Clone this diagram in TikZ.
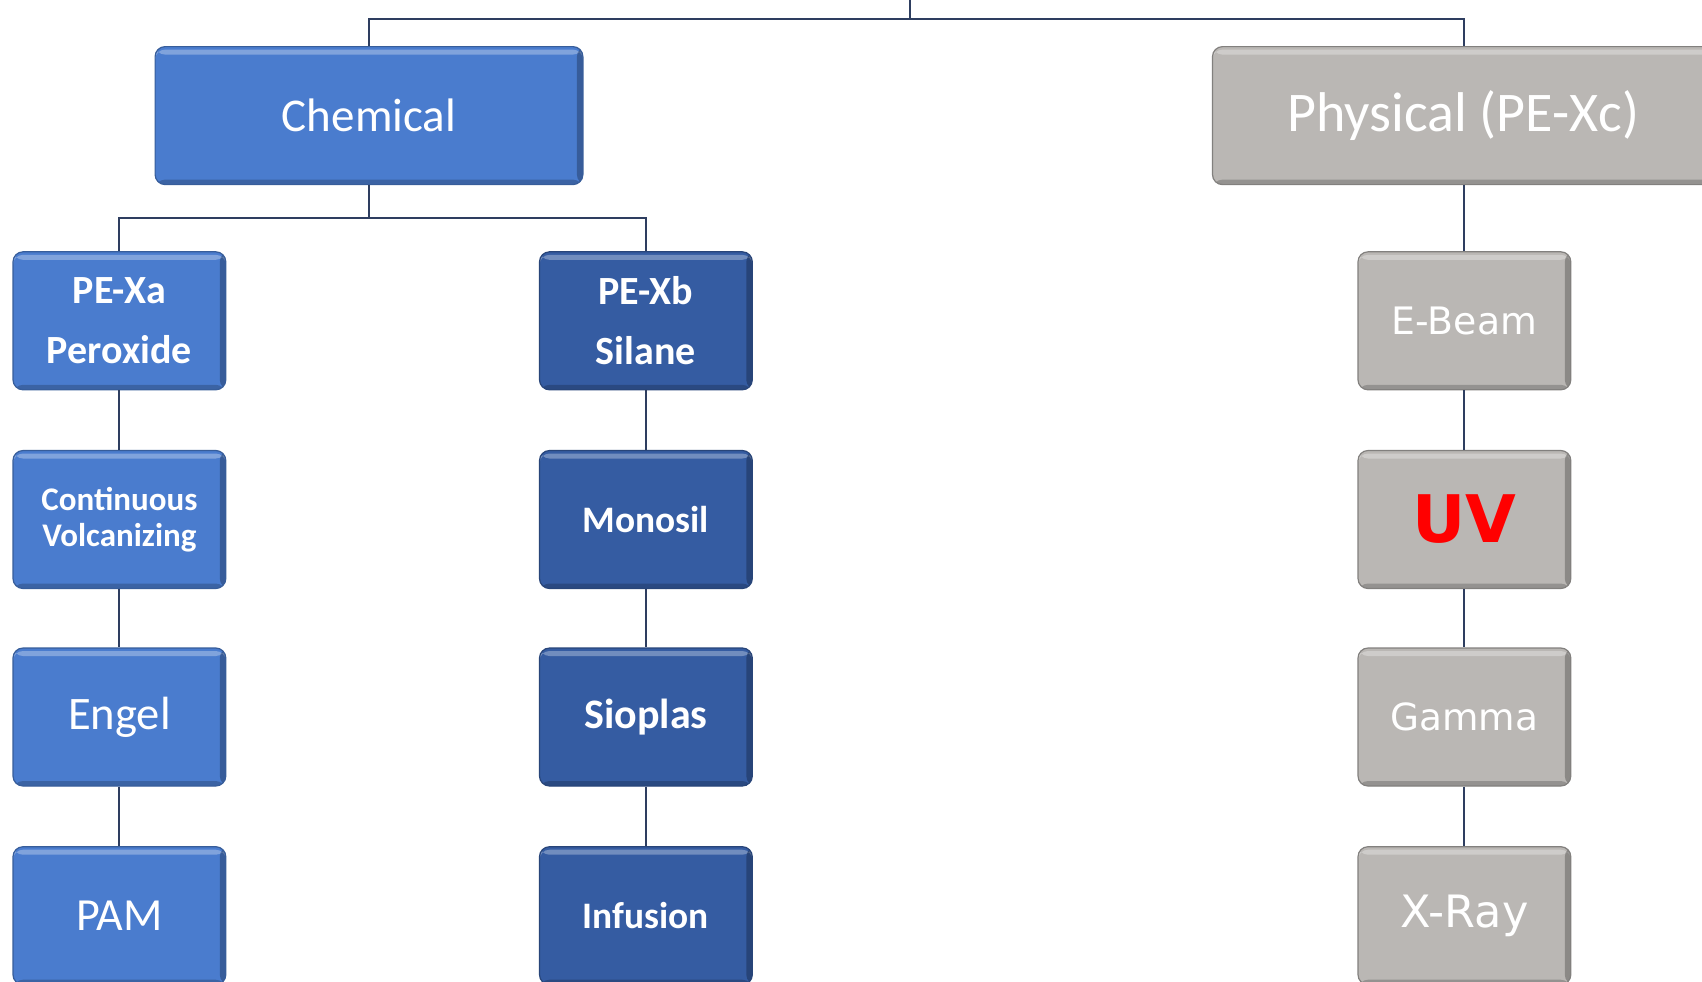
\documentclass[tikz,border=0pt]{standalone}
\usepackage{fontspec}
\setmainfont{Carlito}
\newfontfamily\verdfont{DejaVu Sans}
\definecolor{chemblue}{RGB}{74,124,206}
\definecolor{silblue}{RGB}{53,92,162}
\definecolor{physgray}{RGB}{186,183,180}
\definecolor{linkcol}{RGB}{46,62,96}

\begin{document}
\begin{tikzpicture}[x=.5pt,y=-.5pt,
	box/.style={rounded corners=5pt,minimum width=106.4pt,minimum height=69pt,
		text=white,align=center,inner sep=0pt,line width=.6pt,
		path picture={
			\fill[white,opacity=.3] ([yshift=-1.5pt]path picture bounding box.north west)
				rectangle ([yshift=-4pt]path picture bounding box.north east);
			\fill[black,opacity=.25] (path picture bounding box.north east)
				rectangle ([xshift=-3pt]path picture bounding box.south east);
			\fill[black,opacity=.2] (path picture bounding box.south west)
				rectangle ([yshift=2.5pt]path picture bounding box.south east);}},
	bluebox/.style={box,fill=chemblue,draw=chemblue!75!black},
	darkbox/.style={box,fill=silblue,draw=silblue!75!black,font=\bfseries\fontsize{18.7}{22}\selectfont},
	graybox/.style={box,fill=physgray,draw=physgray!70!black,font=\verdfont\fontsize{18.9}{22}\selectfont},
	link/.style={draw=linkcol,line width=1pt}]
\useasboundingbox (0,0) rectangle (1702,981);

% top level
\node[bluebox,minimum width=213.9pt,font=\fontsize{23.5}{28}\selectfont] (chem) at (369,115.6) {Chemical};
\node[graybox,minimum width=251pt,font=\fontsize{28}{32}\selectfont] (phys) at (1463.5,115.6) {Physical (PE-Xc)};

% peroxide column
\node[bluebox,font=\bfseries\fontsize{20}{30}\selectfont] (pexa) at (119.4,320.8) {PE-Xa\\Peroxide};
\node[bluebox,font=\bfseries\fontsize{16.5}{18}\selectfont] (cv) at (119.4,519.5) {Continuous\\Volcanizing};
\node[bluebox,font=\fontsize{23.3}{28}\selectfont] (engel) at (119.4,717) {Engel};
\node[bluebox,font=\fontsize{23}{28}\selectfont] (pam) at (119.4,915.7) {PAM};

% silane column
\node[darkbox,font=\bfseries\fontsize{20}{30}\selectfont] (pexb) at (645.9,320.8) {PE-Xb\\Silane};
\node[darkbox] (monosil) at (645.9,519.5) {Monosil};
\node[darkbox,font=\bfseries\fontsize{21}{24}\selectfont] (sioplas) at (645.9,717) {Sioplas};
\node[darkbox] (infusion) at (645.9,915.7) {Infusion};

% physical column
\node[graybox] (ebeam) at (1464.4,320.8) {E-Beam};
\node[graybox,text=red,font=\verdfont\bfseries\fontsize{32.8}{36}\selectfont] (uv) at (1464.4,519.5) {UV};
\node[graybox,font=\verdfont\fontsize{18.7}{22}\selectfont] (gamma) at (1464.4,717) {Gamma};
\node[graybox,font=\verdfont\fontsize{22.3}{26}\selectfont] (xray) at (1464.4,915.7) {X-Ray};

% links
\coordinate (top) at (909.6,0);
\coordinate (bus) at (909.6,18.5);
\draw[link] (top) -- (bus);
\draw[link] (chem.north) |- (bus) -| (phys.north);
\draw[link] (chem.south) -- ++(0,32.5) -| (pexa.north);
\draw[link] (chem.south) -- ++(0,32.5) -| (pexb.north);
\draw[link] (ebeam.north) -- (ebeam.north |- phys.south);
\foreach \a/\b in {pexa/cv,cv/engel,engel/pam,pexb/monosil,monosil/sioplas,sioplas/infusion,ebeam/uv,uv/gamma,gamma/xray}
	{\draw[link] (\a.south) -- (\b.north);}

\end{tikzpicture}
\end{document}
